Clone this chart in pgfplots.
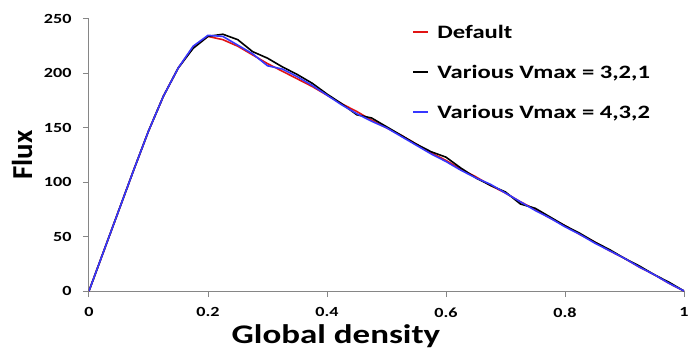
\documentclass[border=0pt]{standalone}
\usepackage{fontspec}
\setmainfont{Carlito}[FakeStretch=1.3]
\newfontfamily\plainfont{Carlito}
\usepackage{pgfplots}
\pgfplotsset{compat=1.18}
\definecolor{cred}{RGB}{225,20,20}
\definecolor{cblue}{RGB}{55,55,255}
\definecolor{axgray}{RGB}{134,134,134}
\begin{document}
\begin{tikzpicture}
\begin{axis}[
  name=ax,
  scale only axis,
  width=595bp, height=272bp,
  xmin=0, xmax=1, ymin=0, ymax=250,
  xtick={0,0.2,0.4,0.6,0.8,1},
  ytick={0,50,100,150,200,250},
  xticklabels={0,0.2,0.4,0.6,0.8,1},
  axis x line*=bottom, axis y line*=left,
  axis line style={axgray, line width=1bp},
  tick style={axgray, line width=1bp},
  tick align=outside,
  major tick length=6bp,
  /pgf/number format/assume math mode=true,
  ticklabel style={font=\fontsize{14}{14}\selectfont\bfseries},
  xticklabel style={yshift=-7bp},
  yticklabel style={xshift=-8bp},
  xlabel={Global density},
  ylabel={Flux},
  xlabel style={at={(rel axis cs:0.415,0)}, anchor=base, yshift=-52bp, font=\fontsize{27}{27}\selectfont\bfseries},
  ylabel style={at={(rel axis cs:0,0.5)}, anchor=center, yshift=67bp, font=\plainfont\fontsize{29}{29}\selectfont\bfseries},
  legend cell align=left,
  legend style={draw=none, fill=none, at={(rel axis cs:0.545,0.978)}, anchor=north west,
    inner sep=0pt, row sep=22bp,
    font=\fontsize{19}{19}\selectfont\bfseries,
    nodes={inner sep=0pt, text height=13bp, text depth=5bp}},
  legend image code/.code={},
  every axis plot/.append style={line width=1.6bp},
]
\addplot[cred] table {
0 0
0.025 37
0.05 74
0.075 111
0.1 147
0.125 179
0.15 205
0.175 224
0.2 234
0.225 231
0.25 225
0.275 217
0.3 209
0.325 202
0.35 195
0.375 188
0.4 180
0.425 172
0.45 165
0.475 157
0.5 150
0.525 143
0.55 135
0.575 127
0.6 120
0.625 112
0.65 105
0.675 97
0.7 90
0.725 82
0.75 75
0.775 67
0.8 60
0.825 52
0.85 45
0.875 37
0.9 30
0.925 22
0.95 15
0.975 7
1 0
};
\addlegendentry{\textcolor{cred}{\rule[5.5bp]{15bp}{1.6bp}}\hspace*{9bp}Default}
\addplot[black] table {
0 0
0.025 37
0.05 74
0.075 111
0.1 147
0.125 179
0.15 205
0.175 223
0.2 234
0.225 236
0.25 231
0.275 220
0.3 214
0.325 206
0.35 199
0.375 191
0.4 181
0.425 172
0.45 162
0.475 159
0.5 151
0.525 143
0.55 135
0.575 128
0.6 123
0.625 113
0.65 104
0.675 97
0.7 91
0.725 80
0.75 76
0.775 68
0.8 60
0.825 53
0.85 45
0.875 38
0.9 30
0.925 23
0.95 15
0.975 8
1 0
};
\addlegendentry{\textcolor{black}{\rule[5.5bp]{15bp}{1.6bp}}\hspace*{9bp}Various Vmax = 3,2,1}
\addplot[cblue] table {
0 0
0.025 37
0.05 74
0.075 111
0.1 147
0.125 179
0.15 205
0.175 225
0.2 235
0.225 234
0.25 226
0.275 218
0.3 207
0.325 204
0.35 197
0.375 189
0.4 180
0.425 171
0.45 163
0.475 156
0.5 150
0.525 142
0.55 134
0.575 126
0.6 119
0.625 111
0.65 104
0.675 98
0.7 90
0.725 82
0.75 74
0.775 67
0.8 59
0.825 52
0.85 44
0.875 37
0.9 30
0.925 22
0.95 15
0.975 7
1 0
};
\addlegendentry{\textcolor{cblue}{\rule[5.5bp]{15bp}{1.6bp}}\hspace*{9bp}Various Vmax = 4,3,2}
\end{axis}
\pgfresetboundingbox
\path[use as bounding box] ([shift={(-89bp,-61bp)}]ax.south west) rectangle ([shift={(4bp,19bp)}]ax.north east);
\end{tikzpicture}
\end{document}
